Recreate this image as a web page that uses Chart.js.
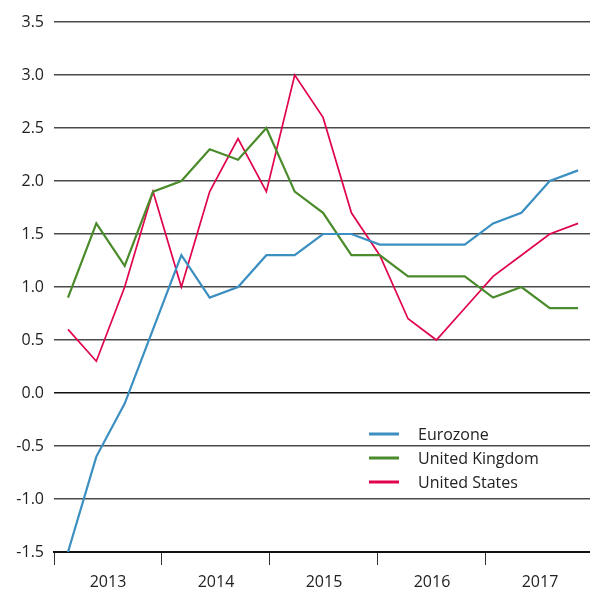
<!DOCTYPE html>
<html>
<head>
<meta charset="utf-8">
<script src="https://cdn.jsdelivr.net/npm/chart.js@4/dist/chart.umd.min.js"></script>
<style>
    html, body { margin: 0; padding: 0; background: #fff; }
    #wrap { width: 590px; height: 590px; }
</style>
</head>
<body>
<div id="wrap"><canvas id="lineChart" width="590" height="590"></canvas></div>
<script>
// quarterly points, 2013 Q1 .. 2017 Q3
let quarters = [
    "2013Q1", "2013Q2", "2013Q3", "2013Q4",
    "2014Q1", "2014Q2", "2014Q3", "2014Q4",
    "2015Q1", "2015Q2", "2015Q3", "2015Q4",
    "2016Q1", "2016Q2", "2016Q3", "2016Q4",
    "2017Q1", "2017Q2", "2017Q3"
];

let eurozone = [-1.5, -0.6, -0.1, 0.6, 1.3, 0.9, 1.0, 1.3, 1.3, 1.5, 1.5, 1.4, 1.4, 1.4, 1.4, 1.6, 1.7, 2.0, 2.1];
let unitedKingdom = [0.9, 1.6, 1.2, 1.9, 2.0, 2.3, 2.2, 2.5, 1.9, 1.7, 1.3, 1.3, 1.1, 1.1, 1.1, 0.9, 1.0, 0.8, 0.8];
let unitedStates = [0.6, 0.3, 1.0, 1.9, 1.0, 1.9, 2.4, 1.9, 3.0, 2.6, 1.7, 1.3, 0.7, 0.5, 0.8, 1.1, 1.3, 1.5, 1.6];

let years = [2013, 2014, 2015, 2016, 2017];
let yTicks = [-1.5, -1.0, -0.5, 0.0, 0.5, 1.0, 1.5, 2.0, 2.5, 3.0, 3.5];

const FONT = "'Open Sans', 'Noto Sans', sans-serif";

function toPoints(values) {
    return values.map((v, i) => ({ x: i, y: v }));
}

// =========================
// legend drawn inside the plot
// =========================
const legendInside = {
    id: "legendInside",
    afterDraw(chart) {
        const ctx = chart.ctx;
        ctx.save();
        ctx.font = "16px " + FONT;
        ctx.textBaseline = "middle";
        chart.data.datasets.forEach((ds, i) => {
            const y = 434 + i * 24;
            ctx.strokeStyle = ds.borderColor;
            ctx.lineWidth = 3;
            ctx.beginPath();
            ctx.moveTo(369, y);
            ctx.lineTo(399, y);
            ctx.stroke();
            ctx.fillStyle = "#222";
            ctx.fillText(ds.label, 418, y + 1);
        });
        ctx.restore();
    }
};

new Chart(document.getElementById("lineChart"), {
    type: "line",
    data: {
        labels: quarters,
        datasets: [
            {
                label: "Eurozone",
                data: toPoints(eurozone),
                borderColor: "#3b8fc1",
                borderWidth: 2.2
            },
            {
                label: "United Kingdom",
                data: toPoints(unitedKingdom),
                borderColor: "#4a8b2c",
                borderWidth: 2.2
            },
            {
                label: "United States",
                data: toPoints(unitedStates),
                borderColor: "#e0034c",
                borderWidth: 1.7
            }
        ]
    },
    options: {
        responsive: false,
        animation: false,
        elements: {
            point: { radius: 0 },
            line: { tension: 0 }
        },
        layout: {
            padding: { top: 22, left: 0, right: 0, bottom: 0 }
        },
        plugins: {
            legend: { display: false },
            tooltip: { enabled: false }
        },
        scales: {
            x: {
                type: "linear",
                min: -0.494,
                max: 18.42,
                display: false
            },
            year: {
                type: "linear",
                position: "bottom",
                min: 2013,
                max: 2017.963,
                afterBuildTicks: (scale) => {
                    scale.ticks = years.map(v => ({ value: v }));
                },
                afterFit: (scale) => { scale.height = 38; },
                grid: {
                    drawOnChartArea: false,
                    drawTicks: true,
                    tickLength: 13,
                    tickColor: "#333",
                    tickWidth: 1
                },
                border: { display: true, color: "#111", width: 2 },
                ticks: {
                    autoSkip: false,
                    maxRotation: 0,
                    labelOffset: 54,
                    padding: 8,
                    color: "#222",
                    font: { family: FONT, size: 16 },
                    callback: (v) => String(v)
                }
            },
            y: {
                min: -1.5,
                max: 3.5,
                afterBuildTicks: (scale) => {
                    scale.ticks = yTicks.map(v => ({ value: v }));
                },
                afterFit: (scale) => { scale.width = 54; },
                border: { display: false },
                grid: {
                    drawTicks: false,
                    color: (c) => c.tick && c.tick.value === 0 ? "#111" : "#4a4a4a",
                    lineWidth: 1.5
                },
                ticks: {
                    padding: 10,
                    color: "#222",
                    font: { family: FONT, size: 16 },
                    callback: (v) => Number(v).toFixed(1)
                }
            }
        }
    },
    plugins: [legendInside]
});
</script>
</body>
</html>
